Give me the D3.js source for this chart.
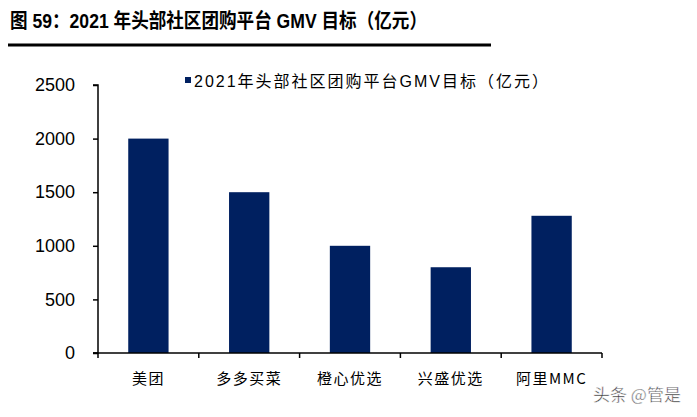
<!DOCTYPE html>
<html><head><meta charset="utf-8">
<script src="https://cdn.jsdelivr.net/npm/d3@7"></script>
<style>body{margin:0;background:#fff;}svg{display:block;}</style>
</head><body>
<svg id="c" width="697" height="417"></svg>
<script>
const categories = ["美团", "多多买菜", "橙心优选", "兴盛优选", "阿里MMC"];
const values = [2000, 1500, 1000, 800, 1280];
const yTicks = [0, 500, 1000, 1500, 2000, 2500];
const titleText = "图 59：2021 年头部社区团购平台 GMV 目标（亿元）";
const legendText = "2021年头部社区团购平台GMV目标（亿元）";
const watermark = "头条 @管是";

const svg = d3.select("#c");
const x = d3.scaleBand().domain(categories).range([98, 602]).paddingInner(0.6).paddingOuter(0.3);
const y = d3.scaleLinear().domain([0, 2500]).range([353, 85]);
const navy = "#002060";

// title
svg.append("text").attr("x", 10).attr("y", 28)
  .attr("font-family", "'Liberation Sans','Noto Sans CJK SC',sans-serif")
  .attr("font-weight", "bold").attr("font-size", 20).attr("fill", "#000")
  .attr("textLength", 417).attr("lengthAdjust", "spacingAndGlyphs")
  .text(titleText);
svg.append("line").attr("x1", 8).attr("x2", 491).attr("y1", 45).attr("y2", 45)
  .attr("stroke", "#000").attr("stroke-width", 3);

// bars
svg.selectAll("rect.bar").data(values).join("rect").attr("class", "bar")
  .attr("x", (d, i) => x(categories[i]))
  .attr("width", x.bandwidth())
  .attr("y", d => y(d))
  .attr("height", d => y(0) - y(d))
  .attr("fill", navy);

// y axis
const ya = svg.append("g").attr("transform", "translate(98,0)")
  .call(d3.axisLeft(y).tickValues(yTicks).tickSize(5).tickPadding(18).tickFormat(d3.format("d")));
ya.select(".domain").attr("stroke", "#000").attr("stroke-width", 1.5).attr("d", "M-5,85H0V353H-5");
ya.selectAll(".tick line").attr("stroke", "#000").attr("stroke-width", 1.5);
ya.selectAll(".tick text").attr("font-family", "'Liberation Sans',Arial,sans-serif")
  .attr("font-size", 18).attr("fill", "#000");

// x axis
const xa = svg.append("g");
xa.append("line").attr("x1", 93).attr("x2", 602).attr("y1", 353).attr("y2", 353)
  .attr("stroke", "#000").attr("stroke-width", 1.5);
const step = x.step();
const x0 = x(categories[0]) - x.paddingOuter() * step - (step - x.bandwidth()) / 2 + x.paddingOuter() * step * 0;
xa.selectAll("line.t").data(d3.range(categories.length + 1)).join("line").attr("class", "t")
  .attr("x1", i => x(categories[0]) - x.paddingOuter() * step + i * step)
  .attr("x2", i => x(categories[0]) - x.paddingOuter() * step + i * step)
  .attr("y1", 353).attr("y2", 358).attr("stroke", "#000").attr("stroke-width", 1.5);
xa.selectAll("text").data(categories).join("text")
  .attr("x", d => x(d) + x.bandwidth() / 2).attr("y", 384)
  .attr("text-anchor", "middle")
  .attr("font-family", "'Noto Sans CJK SC',sans-serif").attr("font-size", 15)
  .attr("letter-spacing", 1.5).attr("fill", "#000")
  .text(d => d);

// legend
svg.append("rect").attr("x", 185).attr("y", 77).attr("width", 6).attr("height", 6).attr("fill", navy);
svg.append("text").attr("x", 194).attr("y", 87)
  .attr("font-family", "'Liberation Sans','Noto Sans CJK SC',sans-serif")
  .attr("font-size", 16).attr("fill", "#000")
  .attr("textLength", 354).attr("lengthAdjust", "spacing")
  .text(legendText);

// watermark
svg.append("text").attr("x", 593).attr("y", 401)
  .attr("font-family", "'Noto Sans CJK SC',sans-serif").attr("font-size", 17)
  .attr("fill", "#333").attr("stroke", "#fff").attr("stroke-width", 0.5)
  .text(watermark);
</script>
</body></html>
